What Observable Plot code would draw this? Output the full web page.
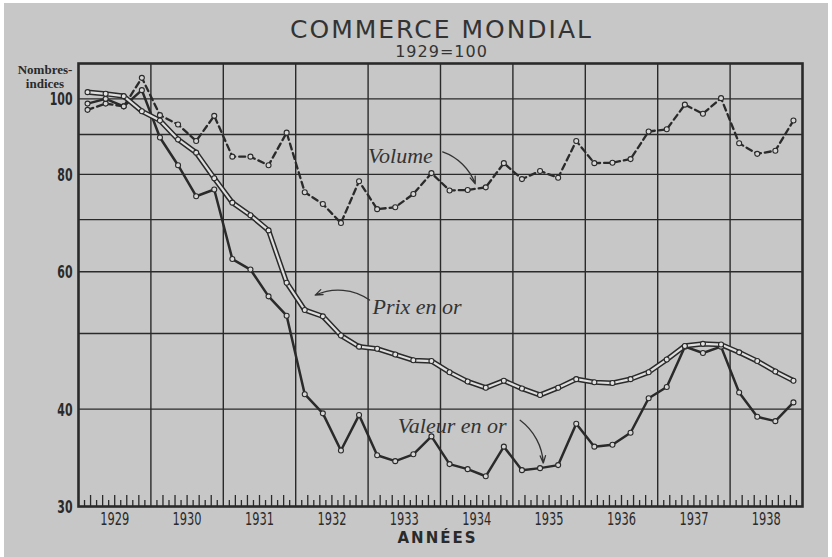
<!DOCTYPE html>
<html>
<head>
<meta charset="utf-8">
<script src="https://cdn.jsdelivr.net/npm/d3@7"></script>
<script src="https://cdn.jsdelivr.net/npm/@observablehq/plot@0.6"></script>
<style>
  html, body { margin: 0; padding: 0; background: #ffffff; }
  #chart svg { display: block; background: #c7c7c7; clip-path: inset(3px 4px 0 4px); }
</style>
</head>
<body>
<div id="chart"></div>
<script>
// ---- data (quarterly index numbers, 1929 = 100) ----
const years = [1929, 1930, 1931, 1932, 1933, 1934, 1935, 1936, 1937, 1938];
const quarters = [1, 2, 3, 4];

const volume = [
  96.8, 98.6, 97.8, 106.4,
  95.3, 92.7, 88.3, 95.1,
  84.3, 84.3, 82.2, 90.5,
  75.9, 73.3, 69.3, 78.4,
  72.2, 72.6, 75.5, 80.3,
  76.3, 76.4, 77.0, 82.7,
  78.9, 80.8, 79.2, 88.3,
  82.7, 82.8, 83.7, 90.8,
  91.4, 98.3, 95.7, 100.2,
  87.7, 85.0, 85.8, 93.8
];
const prixEnOr = [
  102.0, 101.5, 100.8, 96.4,
  93.8, 88.7, 85.3, 79.1,
  73.6, 70.9, 67.8, 58.1,
  53.6, 52.6, 49.7, 48.1,
  47.8, 47.0, 46.2, 46.1,
  44.6, 43.4, 42.6, 43.5,
  42.5, 41.7, 42.6, 43.7,
  43.3, 43.2, 43.7, 44.6,
  46.3, 48.2, 48.5, 48.4,
  47.3, 46.1, 44.7, 43.5
];
const valeurEnOr = [
  98.6, 100.0, 97.8, 102.6,
  89.2, 82.2, 75.0, 76.5,
  62.3, 60.4, 55.8, 52.7,
  41.8, 39.5, 35.4, 39.3,
  34.9, 34.3, 35.0, 36.9,
  34.0, 33.5, 32.8, 35.8,
  33.4, 33.6, 33.9, 38.3,
  35.8, 36.0, 37.3, 41.3,
  42.7, 48.1, 47.2, 48.1,
  42.0, 39.1, 38.6, 40.8
];

const yTickLabels = [30, 40, 60, 80, 100];
const yGridValues = [40, 50, 60, 70, 80, 90, 100];
const monthsOfYear = [1, 2, 3, 4, 5, 6, 7, 8, 9, 10, 11];

const titleText = "COMMERCE MONDIAL";
const subtitleText = "1929=100";
const yTitleText = "Nombres-\nindices";
const xTitleText = "ANNÉES";

// annotation anchors (data units: year, index)
const labels = [
  {text: "Volume", x: 1933.0, y: 84.5},
  {text: "Prix en or", x: 1933.06, y: 54.1},
  {text: "Valeur en or", x: 1933.41, y: 38.1}
];
const arrowVolume = [{x1: 1934.03, y1: 85.5, x2: 1934.48, y2: 77.8}];
const arrowPrix = [{x1: 1933.02, y1: 55.2, x2: 1932.27, y2: 56.0}];
const arrowValeur = [{x1: 1935.10, y1: 38.7, x2: 1935.42, y2: 34.1}];

// ---- table built from the arrays ----
const rows = [];
years.forEach((yr, i) => quarters.forEach((q, j) => {
  const k = i * 4 + j;
  rows.push({t: yr + (q - 0.5) / 4, volume: volume[k], prix: prixEnOr[k], valeur: valeurEnOr[k]});
}));
const shortTicks = [], tallTicks = [];
years.forEach(yr => monthsOfYear.forEach(m => (m % 2 === 0 ? tallTicks : shortTicks).push(yr + m / 12)));

const ink = "#2a2a2a";
const W = 832, H = 557, mT = 63, mB = 51, mL = 78, mR = 30;
const frameH = H - mT - mB;
const cond = "'DejaVu Sans Condensed', 'DejaVu Sans', sans-serif";
const serif = "'Liberation Serif', 'DejaVu Serif', serif";

const chart = Plot.plot({
  width: W, height: H,
  marginTop: mT, marginBottom: mB, marginLeft: mL, marginRight: mR,
  style: {background: "#c7c7c7", color: ink},
  x: {domain: [1929, 1939], axis: null},
  y: {type: "log", domain: [30, 111], axis: null},
  marks: [
    Plot.ruleY(yGridValues, {stroke: ink, strokeWidth: 1.4}),
    Plot.ruleX(years.slice(1), {stroke: ink, strokeWidth: 1.4}),
    Plot.ruleX(shortTicks, {stroke: ink, strokeWidth: 1.3, insetTop: frameH - 6}),
    Plot.ruleX(tallTicks, {stroke: ink, strokeWidth: 1.3, insetTop: frameH - 11}),
    Plot.frame({stroke: ink, strokeWidth: 2.6}),

    Plot.axisY({ticks: yTickLabels, tickSize: 0, tickPadding: 6, dy: 1, tickFormat: d => String(d),
      fontSize: 17, fontWeight: "bold", fontFamily: cond, fill: ink}),
    Plot.axisX({ticks: years.map(y => y + 0.5), tickSize: 0, tickPadding: 6,
      tickFormat: d => String(Math.floor(d)), fontSize: 17, fontFamily: cond, fill: ink}),

    Plot.line(rows, {x: "t", y: "volume", stroke: ink, strokeWidth: 2.3, strokeDasharray: "6,4"}),
    Plot.line(rows, {x: "t", y: "valeur", stroke: ink, strokeWidth: 2.5}),
    Plot.line(rows, {x: "t", y: "prix", stroke: ink, strokeWidth: 5.2}),
    Plot.line(rows, {x: "t", y: "prix", stroke: "#dedede", strokeWidth: 2.2}),
    Plot.dot(rows, {x: "t", y: "volume", r: 2.5, fill: "#d6d6d6", stroke: ink, strokeWidth: 1.1}),
    Plot.dot(rows, {x: "t", y: "valeur", r: 2.5, fill: "#d6d6d6", stroke: ink, strokeWidth: 1.1}),
    Plot.dot(rows, {x: "t", y: "prix", r: 2.5, fill: "#e2e2e2", stroke: ink, strokeWidth: 1.1}),

    Plot.text(labels, {x: "x", y: "y", text: "text", textAnchor: "start", fontStyle: "italic",
      fontFamily: serif, fontSize: 22, fill: "#333"}),
    Plot.arrow(arrowVolume, {x1: "x1", y1: "y1", x2: "x2", y2: "y2", bend: 25, stroke: "#333", strokeWidth: 1.3, headLength: 9, headAngle: 40}),
    Plot.arrow(arrowPrix, {x1: "x1", y1: "y1", x2: "x2", y2: "y2", bend: -30, stroke: "#333", strokeWidth: 1.3, headLength: 9, headAngle: 40}),
    Plot.arrow(arrowValeur, {x1: "x1", y1: "y1", x2: "x2", y2: "y2", bend: 25, stroke: "#333", strokeWidth: 1.3, headLength: 9, headAngle: 40}),

    Plot.text([titleText], {frameAnchor: "top", dx: 1, dy: -26, lineAnchor: "bottom",
      fontSize: 25, fontFamily: "'DejaVu Sans', sans-serif", fill: "#333"}),
    Plot.text([subtitleText], {frameAnchor: "top", dx: 1, dy: -18, lineAnchor: "top",
      fontSize: 16, fontFamily: "'DejaVu Sans', sans-serif", fill: "#333"}),
    Plot.text([yTitleText], {frameAnchor: "top-left", dx: -33.5, dy: 1, lineAnchor: "top", textAnchor: "middle",
      lineHeight: 1.05, fontSize: 13, fontWeight: "bold", fontFamily: serif, fill: ink}),
    Plot.text([xTitleText], {frameAnchor: "bottom", dx: -3, dy: 36, lineAnchor: "bottom",
      fontSize: 15, fontWeight: "bold", fontFamily: "'DejaVu Sans', sans-serif", fill: ink})
  ]
});

const svg = d3.select(chart);
svg.selectAll("text").each(function() {
  const t = d3.select(this).text();
  if (t === titleText) d3.select(this).attr("letter-spacing", "2px");
  if (t === subtitleText) d3.select(this).attr("letter-spacing", "1px");
  if (t === xTitleText) d3.select(this).attr("letter-spacing", "2px");
});
// condensed numerals like the engraved original
svg.selectAll('g[aria-label="y-axis tick label"] text')
  .attr("textLength", function() { return this.textContent.length * 7.6; })
  .attr("lengthAdjust", "spacingAndGlyphs");
svg.selectAll('g[aria-label="x-axis tick label"] text')
  .attr("textLength", 29)
  .attr("lengthAdjust", "spacingAndGlyphs");

document.getElementById("chart").appendChild(chart);
</script>
</body>
</html>
